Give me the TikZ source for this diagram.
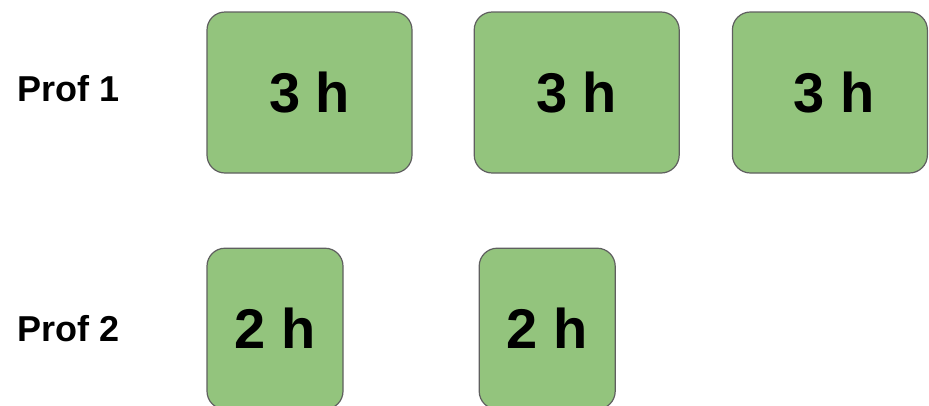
\documentclass[tikz,border=0pt]{standalone}
\usepackage{fontspec}
\setmainfont{Liberation Sans}
\usepackage{tikz}
\usetikzlibrary{positioning}
\definecolor{slotfill}{HTML}{93C47D}
\definecolor{slotline}{HTML}{5F5F5F}

\begin{document}
\begin{tikzpicture}[x=1pt, y=-1pt,
  slot/.style={draw=slotline, line width=1.2pt, fill=slotfill, rounded corners=18pt,
    minimum height=161pt, inner sep=0pt, font=\bfseries\fontsize{56}{60}\selectfont},
  long/.style={slot, minimum width=205pt},
  short/.style={slot, minimum width=136pt},
  prof/.style={inner sep=0pt, font=\bfseries\fontsize{36}{40}\selectfont}
]
  \useasboundingbox (0,0) rectangle (929,405);
  \node[long] (p1a) at (309.5,92.5) {3 h};
  \node[long, right=61pt of p1a] (p1b) {3 h};
  \node[slot, minimum width=195pt, right=52pt of p1b] (p1c) {\hspace*{8pt}3 h};
  \node[short, below=74pt of p1a.south west, anchor=north west] (p2a) {2 h};
  \node[short, right=135pt of p2a] (p2b) {2 h};

  \node[prof, anchor=west] (prof1) at (17,89) {Prof 1};
  \node[prof, anchor=west] (prof2) at (17,328.5) {Prof 2};
\end{tikzpicture}
\end{document}
